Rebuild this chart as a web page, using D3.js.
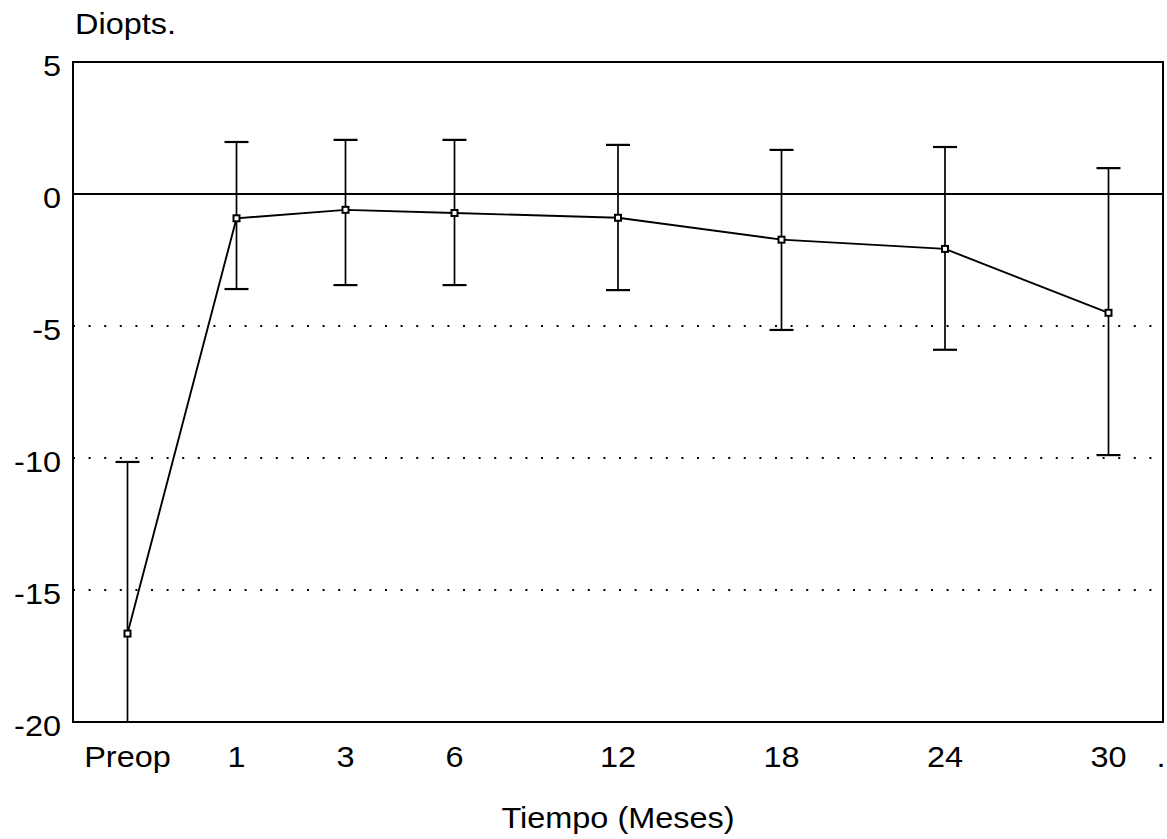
<!DOCTYPE html>
<html>
<head>
<meta charset="utf-8">
<script src="https://cdn.jsdelivr.net/npm/d3@7"></script>
<style>
  html, body { margin: 0; padding: 0; background: #fff; }
  svg { display: block; }
  text { font-family: "Liberation Sans", Arial, sans-serif; fill: #000; }
</style>
</head>
<body>
<svg id="chart" width="1167" height="839"></svg>
<script>
// Refraction (dioptres) over follow-up time: mean with spread bars
const periods = ["Preop", "1", "3", "6", "12", "18", "24", "30"];
const meanValues = [-16.65, -0.92, -0.6, -0.72, -0.9, -1.73, -2.08, -4.5];
const upperValues = [-10.15, 1.97, 2.05, 2.05, 1.86, 1.67, 1.78, 0.98];
const lowerValues = [-23.1, -3.6, -3.45, -3.45, -3.64, -5.15, -5.9, -9.89];
const yTicks = [5, 0, -5, -10, -15, -20];
const dottedLevels = [-5, -10, -15];

const svg = d3.select("#chart");
const plot = { left: 73, right: 1163, top: 62, bottom: 722 };
const FONT = 29, STRETCH = 1.12;

// Horizontal spacing: early visits sit two units apart, later visits three
const slots = [];
periods.forEach((p, i) => slots.push(i === 0 ? 0 : slots[i - 1] + (i <= 3 ? 2 : 3)));

const x = d3.scaleLinear().domain([-1, d3.max(slots) + 1]).range([plot.left, plot.right]);
const y = d3.scaleLinear().domain([-20, 5]).range([plot.bottom, plot.top]);

const data = periods.map((p, i) => ({
  label: p, slot: slots[i], mean: meanValues[i], hi: upperValues[i], lo: lowerValues[i]
}));

svg.append("defs").append("clipPath").attr("id", "plotClip")
  .append("rect")
  .attr("x", plot.left).attr("y", plot.top)
  .attr("width", plot.right - plot.left).attr("height", plot.bottom - plot.top);

// Dotted reference levels
svg.append("g").selectAll("line").data(dottedLevels).join("line")
  .attr("x1", plot.left).attr("x2", plot.right)
  .attr("y1", d => y(d)).attr("y2", d => y(d))
  .attr("stroke", "#000").attr("stroke-width", 2)
  .attr("stroke-dasharray", "2,13.6");

// Zero line
svg.append("line")
  .attr("x1", plot.left).attr("x2", plot.right)
  .attr("y1", y(0)).attr("y2", y(0))
  .attr("stroke", "#000").attr("stroke-width", 2);

// Frame
svg.append("rect")
  .attr("x", plot.left).attr("y", plot.top)
  .attr("width", plot.right - plot.left).attr("height", plot.bottom - plot.top)
  .attr("fill", "none").attr("stroke", "#000").attr("stroke-width", 2);

// Spread bars with caps
const bars = svg.append("g").attr("clip-path", "url(#plotClip)");
bars.selectAll("line.stem").data(data).join("line").attr("class", "stem")
  .attr("x1", d => x(d.slot)).attr("x2", d => x(d.slot))
  .attr("y1", d => y(d.hi)).attr("y2", d => y(d.lo))
  .attr("stroke", "#000").attr("stroke-width", 1.7);
const capHalf = 12;
bars.selectAll("line.capHi").data(data).join("line").attr("class", "capHi")
  .attr("x1", d => x(d.slot) - capHalf).attr("x2", d => x(d.slot) + capHalf)
  .attr("y1", d => y(d.hi)).attr("y2", d => y(d.hi))
  .attr("stroke", "#000").attr("stroke-width", 2.2);
bars.selectAll("line.capLo").data(data.filter(d => d.lo >= -20)).join("line").attr("class", "capLo")
  .attr("x1", d => x(d.slot) - capHalf).attr("x2", d => x(d.slot) + capHalf)
  .attr("y1", d => y(d.lo)).attr("y2", d => y(d.lo))
  .attr("stroke", "#000").attr("stroke-width", 2.2);

// Mean line
svg.append("path").datum(data)
  .attr("d", d3.line().x(d => x(d.slot)).y(d => y(d.mean)))
  .attr("fill", "none").attr("stroke", "#000").attr("stroke-width", 1.9);

// Mean markers
svg.append("g").selectAll("rect").data(data).join("rect")
  .attr("x", d => x(d.slot) - 3).attr("y", d => y(d.mean) - 3)
  .attr("width", 6).attr("height", 6)
  .attr("fill", "#fff").attr("stroke", "#000").attr("stroke-width", 2);

// Text helper: slightly widened glyphs
function label(txt, px, py, anchor) {
  svg.append("text")
    .attr("transform", `translate(${px},${py}) scale(${STRETCH},1)`)
    .attr("text-anchor", anchor)
    .attr("font-size", FONT)
    .text(txt);
}

// Y axis labels
yTicks.forEach(t => label(String(t), 61, y(t) + 14, "end"));

// X axis labels
data.forEach(d => label(d.label, x(d.slot), 767, "middle"));
label(".", 1161, 767, "middle");

// Axis titles
label("Diopts.", 75, 34, "start");
label("Tiempo (Meses)", (plot.left + plot.right) / 2, 828, "middle");
</script>
</body>
</html>
